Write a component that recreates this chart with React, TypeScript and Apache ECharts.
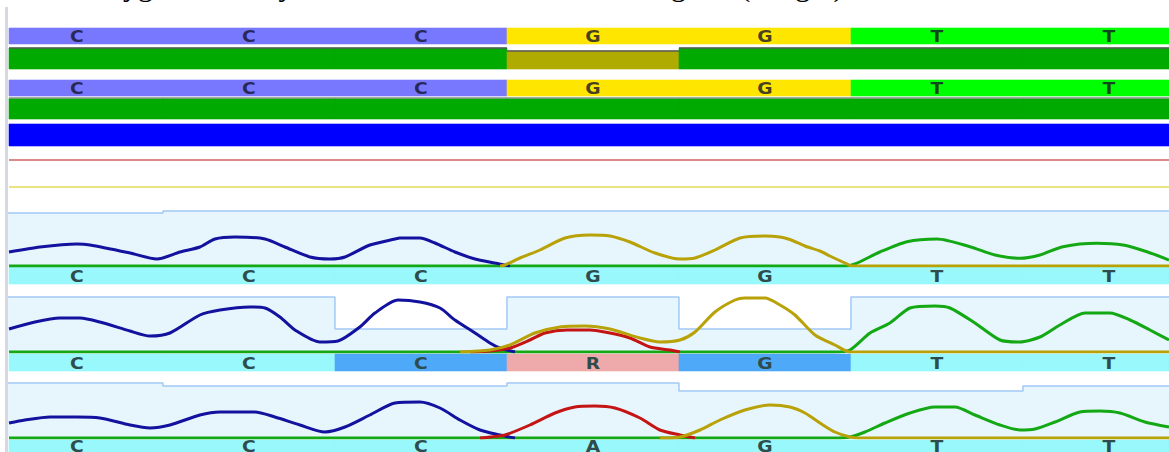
import React, { useEffect, useRef } from "react";
import * as echarts from "echarts";

// ---- data ----
const SCANS_PER_BASE = 12;
const X_MIN = 1.26;
const X_MAX = 82.19;

const CONSENSUS_TOP = ["C", "C", "C", "G", "G", "T", "T"];
const CONSENSUS_MID = ["C", "C", "C", "G", "G", "T", "T"];
const IDENTITY_TOP = [100, 100, 100, 86, 100, 100, 100];
const IDENTITY_MID = [100, 100, 100, 100, 100, 100, 100];
const COVERAGE = [3, 3, 3, 3, 3, 3, 3];

const CALLS_1 = ["C", "C", "C", "G", "G", "T", "T"];
const CALLS_2 = ["C", "C", "C", "R", "G", "T", "T"];
const CALLS_3 = ["C", "C", "C", "A", "G", "T", "T"];
const MARKS_1 = ["", "", "", "", "", "", ""];
const MARKS_2 = ["", "", "edit", "mixed", "edit", "", ""];
const MARKS_3 = ["", "", "", "", "", "", ""];

const QUAL_1 = [53, 55, 55, 55, 55, 55, 55];
const QUAL_2 = [55, 55, 23, 55, 23, 55, 55];
const QUAL_3 = [55, 52, 52, 55, 47, 47, 52];

// trace intensities: [scan, intensity]
const TRACE1_C = [[1.26,140],[3.42,190],[6.0,220],[6.91,210],[9.7,130],[11.58,70],[13.19,140],[14.58,190],[15.63,270],[17.02,290],[19.12,270],[20.51,190],[22.26,90],[23.65,70],[24.7,90],[26.44,210],[28.19,270],[28.53,280],[29.93,280],[30.98,230],[32.37,140],[33.77,70],[35.16,30],[36.21,0]];
const TRACE1_G = [[35.51,0],[35.86,10],[36.91,80],[38.3,160],[40.05,280],[41.79,310],[43.19,300],[44.58,240],[46.33,130],[48.07,70],[49.12,80],[50.51,160],[52.26,280],[54.0,300],[55.05,290],[55.74,265],[56.79,200],[57.84,150],[58.53,100],[59.58,30],[60.07,0],[82.19,0]];
const TRACE1_T = [[1.26,0],[59.58,0],[60.28,20],[62.02,140],[63.91,243],[66.0,270],[68.3,193],[70.05,110],[71.79,77],[73.19,110],[74.79,193],[77.16,227],[78.98,210],[80.65,143],[82.19,60]];

const TRACE2_C = [[1.26,230],[3.07,300],[4.81,340],[6.21,340],[7.6,300],[9.7,210],[11.09,160],[12.49,190],[14.58,370],[15.98,420],[18.07,450],[19.12,440],[20.16,350],[21.21,220],[22.95,100],[24.21,110],[25.74,250],[26.79,390],[28.4,520],[29.93,500],[31.33,440],[32.37,320],[33.77,190],[34.81,90],[35.51,40],[36.56,0]];
const TRACE2_A = [[33.42,0],[34.81,10],[36.21,40],[37.6,120],[38.65,190],[40.19,220],[41.79,220],[43.19,190],[44.58,140],[45.98,50],[47.37,20],[48.07,0]];
const TRACE2_G = [[32.72,0],[34.81,20],[36.21,70],[37.95,190],[39.7,250],[41.44,260],[43.19,230],[45.28,140],[46.67,100],[48.07,120],[49.12,200],[50.51,400],[51.91,520],[52.6,540],[54.0,540],[55.05,470],[56.09,370],[57.49,170],[58.88,70],[59.93,0],[82.19,0]];
const TRACE2_T = [[1.26,0],[58.88,0],[59.93,20],[61.33,190],[62.72,290],[64.12,440],[65.86,460],[66.91,440],[68.65,290],[70.4,120],[71.79,100],[73.19,150],[74.58,270],[76.33,390],[78.07,390],[79.47,320],[80.86,220],[82.19,120]];

const TRACE3_C = [[1.26,150],[2.37,180],[4.12,210],[6.0,210],[7.6,200],[9.7,130],[11.09,100],[12.49,130],[14.58,230],[15.98,260],[18.42,260],[19.81,210],[21.56,130],[23.3,60],[24.7,110],[26.44,230],[28.19,350],[29.93,360],[31.33,300],[32.72,180],[34.12,80],[35.51,30],[36.56,0]];
const TRACE3_A = [[34.12,0],[34.81,10],[35.86,30],[37.6,130],[39.35,250],[40.74,310],[42.14,320],[43.53,300],[45.28,200],[46.67,80],[48.07,30],[49.12,0]];
const TRACE3_G = [[46.67,0],[48.07,10],[49.47,80],[50.86,180],[52.6,280],[54.35,330],[55.74,310],[56.79,250],[57.84,150],[58.88,60],[59.93,10],[60.63,0],[82.19,0]];
const TRACE3_T = [[1.26,0],[58.88,0],[59.93,10],[60.98,60],[62.37,150],[64.12,250],[65.86,310],[67.26,310],[68.65,230],[70.4,130],[71.79,80],[72.84,90],[74.23,160],[75.98,260],[77.37,270],[78.77,250],[80.51,160],[82.19,110]];

// ---- styles ----
const CONS_COLORS: Record<string, string> = { A: "#ff6060", C: "#7878ff", G: "#ffe600", T: "#00ff00" };
const CH_COLORS: Record<string, string> = { A: "#c41414", C: "#12129e", G: "#b8a208", T: "#14a814" };
const BAND_COLORS: Record<string, string> = { "": "#98f8fc", edit: "#4eaaf8", mixed: "#eeaaaa" };

const GRIDS = [
  { top: 28, h: 16 },  // 0 consensus top
  { top: 48, h: 21 },  // 1 identity top
  { top: 80, h: 16 },  // 2 consensus mid
  { top: 98, h: 21 },  // 3 identity mid
  { top: 124, h: 22 }, // 4 coverage
  { top: 196, h: 70 }, // 5 trace 1
  { top: 267, h: 17 }, // 6 calls 1
  { top: 282, h: 70 }, // 7 trace 2
  { top: 354, h: 17 }, // 8 calls 2
  { top: 368, h: 70 }, // 9 trace 3
  { top: 440, h: 17 }, // 10 calls 3
];
const Y_MAX = [1, 100, 1, 100, 3, 700, 1, 700, 1, 700, 1];

function cells(n: number) {
  const out: number[][] = [];
  for (let i = 0; i < n; i++) out.push([i * SCANS_PER_BASE, (i + 1) * SCANS_PER_BASE]);
  return out;
}

function letterSeries(g: number, letters: string[], fillFn: (i: number) => string, letterColor: string) {
  return {
    type: "custom",
    xAxisIndex: g,
    yAxisIndex: g,
    z: 2,
    data: cells(letters.length),
    encode: { x: [0, 1] },
    renderItem: (params: any, api: any) => {
      const cs = params.coordSys;
      const a = api.coord([api.value(0), 0])[0];
      const b = api.coord([api.value(1), 0])[0];
      const x0 = Math.round(Math.max(a, cs.x));
      const x1 = Math.round(Math.min(b, cs.x + cs.width));
      const i = params.dataIndex;
      const fill = fillFn(i);
      return {
        type: "group",
        children: [
          { type: "rect", shape: { x: x0, y: cs.y, width: x1 - x0, height: cs.height }, style: { fill, stroke: fill, lineWidth: 0.6 } },
          {
            type: "text",
            x: (a + b) / 2,
            y: cs.y + cs.height / 2 + 1,
            scaleX: 1.25,
            style: {
              text: letters[i],
              fill: letterColor,
              font: 'bold 15px "DejaVu Sans"',
              align: "center",
              verticalAlign: "middle",
            },
          },
        ],
      };
    },
  };
}

function barSeries(g: number, values: number[], colorFn: (v: number) => string, topLine: string | null) {
  return {
    type: "custom",
    xAxisIndex: g,
    yAxisIndex: g,
    z: 2,
    data: values.map((v, i) => [i * SCANS_PER_BASE, (i + 1) * SCANS_PER_BASE, v]),
    encode: { x: [0, 1], y: 2 },
    renderItem: (params: any, api: any) => {
      const cs = params.coordSys;
      const p0 = api.coord([api.value(0), api.value(2)]);
      const p1 = api.coord([api.value(1), 0]);
      const x0 = Math.round(Math.max(p0[0], cs.x));
      const x1 = Math.round(Math.min(p1[0], cs.x + cs.width));
      const fill = colorFn(api.value(2));
      const children: any[] = [
        { type: "rect", shape: { x: x0, y: p0[1], width: x1 - x0, height: p1[1] - p0[1] }, style: { fill, stroke: fill, lineWidth: 0.6 } },
      ];
      if (topLine) {
        children.push({ type: "line", shape: { x1: x0, y1: p0[1], x2: x1, y2: p0[1] }, style: { stroke: topLine, lineWidth: 1.5 } });
      }
      return { type: "group", children };
    },
  };
}

function qualitySeries(g: number, qAxis: number, q: number[]) {
  const data = q.map((v, i) => [i * SCANS_PER_BASE, v]);
  data.push([q.length * SCANS_PER_BASE, q[q.length - 1]]);
  return {
    type: "line",
    xAxisIndex: g,
    yAxisIndex: qAxis,
    step: "end",
    data,
    showSymbol: false,
    silent: true,
    z: 1,
    lineStyle: { color: "#a2c9f6", width: 1.5 },
    areaStyle: { color: "#e7f6fd", opacity: 1, origin: "start" },
  };
}

function traceSeries(g: number, ch: string, data: number[][]) {
  return {
    type: "line",
    name: ch,
    xAxisIndex: g,
    yAxisIndex: g,
    data,
    smooth: 0.25,
    showSymbol: false,
    silent: true,
    z: 3,
    lineStyle: { color: CH_COLORS[ch], width: 3 },
  };
}

export default function App() {
  const ref = useRef<HTMLDivElement>(null);
  useEffect(() => {
    if (!ref.current) return;
    const chart = echarts.init(ref.current, undefined, { renderer: "svg" });

    const grid = GRIDS.map((g) => ({ left: 9, right: 0, top: g.top, height: g.h, containLabel: false }));
    const xAxis = GRIDS.map((_, i) => ({ type: "value", gridIndex: i, min: X_MIN, max: X_MAX, show: false }));
    const yAxis: any[] = GRIDS.map((_, i) => ({ type: "value", gridIndex: i, min: 0, max: Y_MAX[i], show: false }));
    const qAxes = [5, 7, 9].map((gi) => {
      yAxis.push({ type: "value", gridIndex: gi, min: 0, max: 70, show: false });
      return yAxis.length - 1;
    });

    const consLetter = "rgba(20,20,40,0.8)";
    const callLetter = "#2f4c4c";
    const series: any[] = [
      letterSeries(0, CONSENSUS_TOP, (i) => CONS_COLORS[CONSENSUS_TOP[i]], consLetter),
      barSeries(1, IDENTITY_TOP, (v) => (v >= 100 ? "#00aa00" : "#afab00"), "#5a5a5a"),
      letterSeries(2, CONSENSUS_MID, (i) => CONS_COLORS[CONSENSUS_MID[i]], consLetter),
      barSeries(3, IDENTITY_MID, (v) => (v >= 100 ? "#00aa00" : "#afab00"), "#9a9a9a"),
      barSeries(4, COVERAGE, () => "#0000ff", null),

      qualitySeries(5, qAxes[0], QUAL_1),
      traceSeries(5, "T", TRACE1_T),
      traceSeries(5, "C", TRACE1_C),
      traceSeries(5, "G", TRACE1_G),
      letterSeries(6, CALLS_1, (i) => BAND_COLORS[MARKS_1[i]], callLetter),

      qualitySeries(7, qAxes[1], QUAL_2),
      traceSeries(7, "T", TRACE2_T),
      traceSeries(7, "C", TRACE2_C),
      traceSeries(7, "A", TRACE2_A),
      traceSeries(7, "G", TRACE2_G),
      letterSeries(8, CALLS_2, (i) => BAND_COLORS[MARKS_2[i]], callLetter),

      qualitySeries(9, qAxes[2], QUAL_3),
      traceSeries(9, "T", TRACE3_T),
      traceSeries(9, "C", TRACE3_C),
      traceSeries(9, "A", TRACE3_A),
      traceSeries(9, "G", TRACE3_G),
      letterSeries(10, CALLS_3, (i) => BAND_COLORS[MARKS_3[i]], callLetter),
    ];

    const capFont = '30px "Liberation Serif"';
    chart.setOption({
      animation: false,
      backgroundColor: "#ffffff",
      grid,
      xAxis,
      yAxis,
      series,
      graphic: [
        { type: "rect", shape: { x: 5, y: 7, width: 3, height: 445 }, style: { fill: "#d6d9e2" }, silent: true },
        { type: "line", shape: { x1: 9, y1: 160, x2: 1169, y2: 160 }, style: { stroke: "#d98b8b", lineWidth: 2 }, silent: true },
        { type: "line", shape: { x1: 9, y1: 187, x2: 1169, y2: 187 }, style: { stroke: "#e6dc55", lineWidth: 1.5 }, silent: true },
        {
          type: "text", x: 28, y: 0, silent: true,
          style: { text: "Heterozygous SNP by three traces as the tool", font: capFont, fill: "#000", align: "left", verticalAlign: "bottom", textAlign: "left", textVerticalAlign: "bottom" },
        },
        {
          type: "text", x: 851, y: 0, silent: true,
          style: { text: "investigates (Sanger).", font: capFont, fill: "#000", align: "right", verticalAlign: "bottom", textAlign: "right", textVerticalAlign: "bottom" },
        },
      ],
    });
    return () => chart.dispose();
  }, []);
  return <div ref={ref} style={{ position: "absolute", left: 0, top: 0, width: 1169, height: 452, background: "#fff" }} />;
}
